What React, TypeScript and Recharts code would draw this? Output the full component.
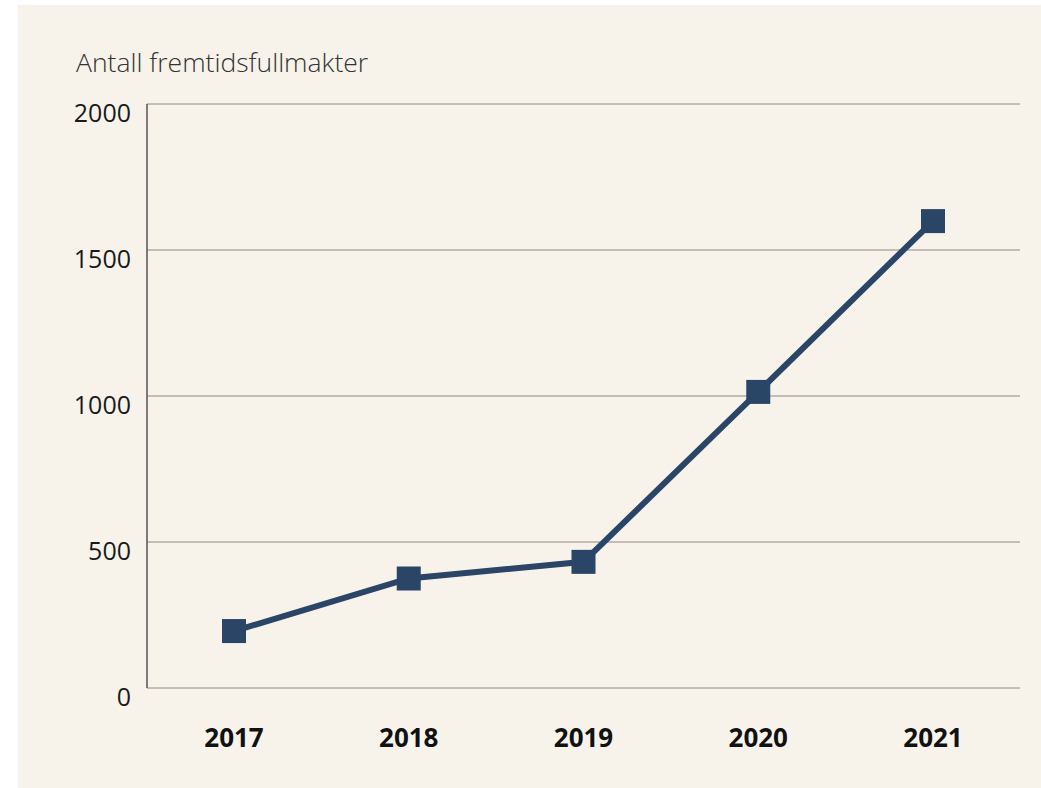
import React from 'react'
import { LineChart, Line, XAxis, YAxis, CartesianGrid } from 'recharts'

const years = ['2017', '2018', '2019', '2020', '2021']
const fullmakter = [195, 375, 432, 1014, 1599]
const yTicks = [0, 500, 1000, 1500, 2000]

const data = years.map((year, i) => ({ year, value: fullmakter[i] }))

const navy = '#2a4566'
const font = '"Open Sans", "Noto Sans", sans-serif'

const YTick = (props: any) => {
  const { x, y, payload } = props
  return (
    <text x={x - 8} y={y + 11} textAnchor="end" dominantBaseline="middle"
      fontFamily={font} fontSize={25} fill="#1a1a1a">
      {payload.value}
    </text>
  )
}

const XTick = (props: any) => {
  const { x, y, payload } = props
  return (
    <text x={x} y={y + 44} textAnchor="middle" dominantBaseline="middle"
      fontFamily={font} fontSize={26} fontWeight={700} fill="#111">
      {payload.value}
    </text>
  )
}

const SquareDot = (props: any) => {
  const { cx, cy, index } = props
  return <rect key={index} x={cx - 12} y={cy - 12} width={24} height={24} fill={navy} />
}

export default function App() {
  return (
    <div style={{ position: 'absolute', left: 18, top: 5, width: 1023, height: 783, background: '#f7f3ea' }}>
      <div style={{ position: 'absolute', left: 58, top: 39, fontFamily: font, fontWeight: 300, fontSize: 26.5, color: '#333' }}>
        Antall fremtidsfullmakter
      </div>
      <LineChart width={1023} height={783} data={data}
        margin={{ top: 99, right: 21, left: 0, bottom: 40 }}>
        <CartesianGrid vertical={false} stroke="#8f8a80" strokeWidth={1} />
        <XAxis dataKey="year" axisLine={false} tickLine={false} height={60}
          padding={{ left: 87, right: 87 }} tick={<XTick />} interval={0} />
        <YAxis domain={[0, 2000]} ticks={yTicks} width={129} axisLine={{ stroke: '#555', strokeWidth: 1.5 }}
          tickLine={false} tick={<YTick />} interval={0} />
        <Line dataKey="value" stroke={navy} strokeWidth={6} isAnimationActive={false}
          dot={<SquareDot />} activeDot={false} type="linear" />
      </LineChart>
    </div>
  )
}
